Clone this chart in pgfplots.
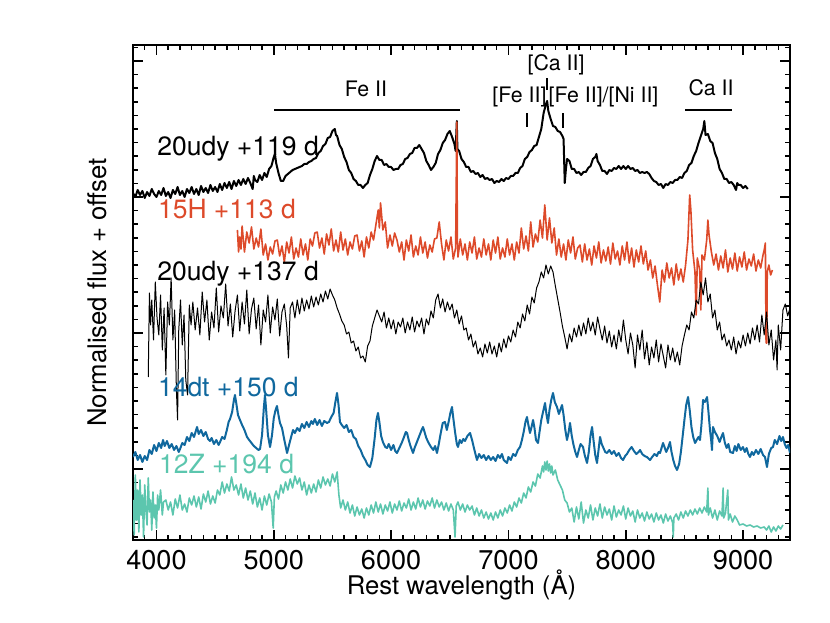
\documentclass[border=0pt]{standalone}
\usepackage{fontspec}
\setmainfont{TeX Gyre Heros}
\usepackage{pgfplots}
\pgfplotsset{compat=1.18}
\definecolor{redc}{RGB}{221,74,42}
\definecolor{bluec}{RGB}{16,104,158}
\definecolor{tealc}{RGB}{92,198,174}
\begin{document}
\begin{tikzpicture}[font=\fontsize{13.3}{16}\selectfont]
\path[use as bounding box] (-66.5bp,-41.5bp) rectangle (348.5bp,270bp);
\begin{axis}[
  at={(0,0)}, anchor=south west, scale only axis,
  width=328.5bp, height=247.5bp,
  xmin=3800, xmax=9400, ymin=0, ymax=495,
  xtick={4000,5000,...,9000}, minor xtick={3800,3900,...,9400},
  ytick={71,207,343,479}, yticklabels={}, minor ytick={3,16.6,...,493},
  xtick pos=both, ytick pos=both, xticklabel pos=lower,
  tick align=inside, major tick length=5bp, minor tick length=2.5bp,
  every tick/.style={black, line width=0.75bp},
  axis line style={line width=1bp},
  /pgf/number format/assume math mode=true,
  /pgf/number format/1000 sep={},
  xticklabel style={anchor=center, yshift=-10bp, font=\fontsize{13.6}{16}\selectfont},
  xlabel={Rest wavelength (Å)}, ylabel={Normalised flux + offset},
  label style={font=\fontsize{12.9}{15}\selectfont},
  xlabel style={at={(axis description cs:0.5,-0.091)}, anchor=center},
  ylabel style={at={(axis description cs:-0.055,0.5)}, anchor=center},
  every axis plot/.append style={line join=round},
]
% 20udy +119 d
\addplot[black, line width=1bp] coordinates {
(3800,347)(3820,343)(3840,350)(3860,345)(3880,349)(3900,342)(3920,348)(3940,344)(3960,351)(3980,346)
(4000,343)(4020,349)(4040,345)(4060,352)(4080,344)(4100,348)(4120,342)(4140,350)(4160,346)(4180,353)
(4200,345)(4220,349)(4240,343)(4260,351)(4280,347)(4300,353)(4320,346)(4340,351)(4360,345)(4380,354)
(4400,348)(4420,352)(4440,347)(4460,355)(4480,349)(4500,353)(4520,348)(4540,356)(4560,350)(4580,357)
(4600,352)(4620,358)(4640,351)(4660,359)(4680,354)(4700,360)(4720,355)(4740,361)(4760,356)(4780,362)
(4800,357)(4820,351)(4830,364)(4840,360)(4860,358)(4880,365)(4900,360)(4920,367)(4940,363)(4960,371)
(4980,374)(5000,383)(5010,386)(5020,377)(5040,367)(5060,359)(5080,359)(5100,364)(5120,366)(5140,368)
(5160,370)(5180,371)(5200,372)(5220,373)(5240,374)(5260,376)(5280,376)(5300,378)(5320,379)(5340,381)
(5360,382)(5380,387)(5400,389)(5420,394)(5440,396)(5460,402)(5480,403)(5500,409)(5520,411)(5530,405)
(5540,404)(5560,395)(5580,391)(5600,383)(5620,378)(5640,370)(5660,367)(5680,361)(5700,359)(5720,355)
(5740,355)(5760,352)(5780,355)(5800,357)(5820,365)(5840,371)(5860,379)(5880,384)(5900,380)(5920,380)
(5940,375)(5960,376)(5980,373)(6000,373)(6020,370)(6040,371)(6060,371)(6080,375)(6100,376)(6120,381)
(6140,382)(6160,386)(6180,387)(6200,392)(6220,392)(6240,395)(6260,391)(6280,387)(6300,379)(6320,375)
(6340,370)(6360,373)(6380,377)(6400,386)(6420,390)(6440,397)(6460,400)(6480,406)(6500,409)(6520,403)
(6540,396)(6550,389)(6560,419)(6565,391)(6580,389)(6600,381)(6620,378)(6640,373)(6660,373)(6680,368)
(6700,369)(6720,366)(6740,367)(6760,363)(6780,365)(6800,361)(6820,362)(6840,360)(6860,361)(6880,357)
(6900,359)(6920,358)(6940,361)(6960,359)(6980,362)(7000,361)(7020,364)(7040,364)(7060,367)(7080,367)
(7100,372)(7120,374)(7140,381)(7160,383)(7180,388)(7200,390)(7220,394)(7240,395)(7260,403)(7280,411)
(7300,427)(7320,436)(7330,439)(7340,429)(7360,421)(7380,414)(7400,413)(7420,409)(7440,408)(7460,404)
(7470,401)(7480,357)(7490,371)(7500,381)(7520,379)(7540,371)(7560,371)(7580,367)(7600,368)(7620,365)
(7640,368)(7660,368)(7680,372)(7700,374)(7720,381)(7740,383)(7750,386)(7760,379)(7780,375)(7800,369)
(7820,369)(7840,366)(7860,370)(7880,369)(7900,372)(7920,371)(7940,374)(7960,371)(7980,374)(8000,371)
(8020,374)(8040,371)(8060,372)(8080,369)(8100,370)(8120,367)(8140,368)(8160,367)(8180,368)(8200,366)
(8220,362)(8240,359)(8260,358)(8280,355)(8300,356)(8320,352)(8340,356)(8360,355)(8380,358)(8400,357)
(8420,360)(8440,360)(8460,363)(8480,362)(8500,367)(8520,369)(8540,375)(8560,377)(8580,384)(8600,389)
(8620,397)(8640,404)(8660,411)(8670,419)(8680,405)(8700,406)(8720,399)(8740,397)(8760,387)(8780,381)
(8800,371)(8820,367)(8840,361)(8860,361)(8880,357)(8900,358)(8920,355)(8940,350)(8950,357)(8960,355)
(8980,355)(9000,352)(9020,354)(9040,351)};
% 15H +113 d
\addplot[redc, line width=0.8bp] coordinates {
(4690,310)(4700,288)(4710,303)(4720,291)(4730,314)(4750,288)(4770,308)(4790,297)(4810,313)(4830,291)
(4850,302)(4870,293)(4890,311)(4910,285)(4930,296)(4950,280)(4970,293)(4990,286)(5010,299)(5030,300)
(5050,284)(5070,294)(5090,278)(5110,298)(5130,287)(5150,303)(5170,281)(5190,292)(5210,283)(5230,301)
(5250,285)(5270,296)(5290,280)(5310,301)(5330,294)(5350,307)(5370,308)(5390,292)(5410,302)(5430,286)
(5450,306)(5470,295)(5490,311)(5510,289)(5530,300)(5550,288)(5570,308)(5590,290)(5610,301)(5630,285)
(5650,298)(5670,291)(5690,304)(5710,305)(5730,289)(5750,299)(5770,283)(5790,303)(5810,292)(5830,308)
(5850,300)(5870,315)(5890,330)(5900,312)(5910,337)(5930,310)(5950,318)(5970,292)(5990,305)(6010,294)
(6030,307)(6050,300)(6070,288)(6090,298)(6110,280)(6130,300)(6150,289)(6170,305)(6190,283)(6210,294)
(6230,285)(6250,303)(6270,287)(6290,298)(6310,282)(6330,295)(6350,288)(6370,301)(6390,302)(6410,318)
(6430,296)(6450,280)(6470,300)(6490,289)(6510,303)(6530,281)(6550,292)(6560,418)(6565,300)(6570,283)
(6590,301)(6610,285)(6630,296)(6650,280)(6670,298)(6690,287)(6710,303)(6730,281)(6750,292)(6770,283)
(6790,301)(6810,285)(6830,296)(6850,280)(6870,300)(6890,287)(6910,303)(6930,281)(6950,292)(6970,283)
(6990,301)(7010,285)(7030,296)(7050,280)(7070,298)(7090,287)(7110,312)(7130,291)(7150,304)(7170,289)
(7190,318)(7210,293)(7230,306)(7250,298)(7270,320)(7290,302)(7310,335)(7330,300)(7350,322)(7370,297)
(7390,312)(7410,285)(7430,301)(7450,283)(7470,296)(7490,280)(7510,300)(7530,287)(7550,303)(7570,281)
(7590,292)(7610,295)(7630,278)(7650,296)(7670,280)(7690,291)(7710,275)(7730,294)(7750,282)(7770,298)
(7790,277)(7810,290)(7830,279)(7850,293)(7870,276)(7890,297)(7910,281)(7930,289)(7950,275)(7970,294)
(7990,280)(8010,298)(8030,277)(8050,292)(8070,273)(8090,290)(8110,278)(8130,294)(8150,276)(8170,289)
(8190,270)(8210,280)(8230,262)(8250,274)(8270,255)(8290,238)(8310,270)(8330,258)(8350,277)(8370,262)
(8390,272)(8410,255)(8430,276)(8450,260)(8470,271)(8490,258)(8510,275)(8530,300)(8545,345)(8555,330)
(8570,290)(8590,268)(8600,225)(8610,282)(8630,270)(8640,230)(8650,285)(8670,280)(8690,300)(8700,320)
(8710,305)(8730,288)(8750,275)(8770,286)(8790,270)(8810,284)(8830,272)(8850,290)(8870,268)(8890,282)
(8910,271)(8930,287)(8950,269)(8970,283)(8990,273)(9010,288)(9030,270)(9050,281)(9070,274)(9090,286)
(9110,269)(9130,280)(9150,272)(9170,285)(9180,290)(9190,297)(9196,197)(9202,197)(9206,268)(9220,275)
(9235,265)(9250,270)};
% 20udy +137 d
\addplot[black, line width=0.5bp] coordinates {
(3930,163)(3940,247)(3950,215)(3960,240)(3975,200)(3990,258)(4005,222)(4020,205)(4035,245)(4050,190)
(4065,232)(4080,165)(4095,238)(4110,215)(4125,262)(4140,200)(4155,230)(4170,150)(4180,120)(4190,210)
(4205,240)(4220,195)(4235,225)(4250,160)(4265,145)(4280,235)(4295,215)(4310,238)(4330,210)(4350,232)
(4370,205)(4390,248)(4410,218)(4430,240)(4450,200)(4470,228)(4490,212)(4510,252)(4530,208)(4550,234)
(4570,222)(4590,256)(4610,214)(4630,236)(4650,203)(4670,229)(4690,245)(4710,209)(4730,238)(4750,216)
(4770,250)(4790,206)(4810,231)(4830,242)(4850,211)(4870,235)(4890,195)(4910,230)(4930,218)(4950,245)
(4970,207)(4990,233)(5010,220)(5030,241)(5050,204)(5070,228)(5090,236)(5110,214)(5125,182)(5140,232)
(5160,238)(5180,222)(5200,240)(5220,226)(5240,242)(5260,229)(5280,240)(5300,231)(5320,244)(5340,233)
(5360,243)(5380,235)(5400,246)(5420,238)(5440,249)(5460,241)(5480,251)(5500,245)(5520,240)(5540,232)
(5560,226)(5580,219)(5600,215)(5620,206)(5640,208)(5660,197)(5680,199)(5700,189)(5720,193)(5740,182)
(5760,184)(5780,178)(5800,194)(5820,199)(5840,214)(5860,222)(5880,230)(5900,224)(5920,218)(5940,228)
(5960,212)(5980,222)(6000,211)(6020,220)(6040,206)(6060,218)(6080,213)(6100,222)(6120,207)(6140,218)
(6160,210)(6180,223)(6200,208)(6220,219)(6240,213)(6260,222)(6280,206)(6300,221)(6320,215)(6340,229)
(6360,222)(6380,240)(6400,246)(6420,232)(6440,241)(6460,228)(6480,238)(6500,230)(6520,236)(6540,222)
(6560,230)(6580,216)(6600,224)(6620,210)(6640,212)(6660,200)(6680,206)(6700,193)(6720,199)(6740,186)
(6760,192)(6780,183)(6800,196)(6820,187)(6840,198)(6860,186)(6880,194)(6900,183)(6920,197)(6940,188)
(6960,201)(6980,192)(7000,204)(7020,198)(7040,210)(7060,203)(7080,218)(7100,212)(7120,226)(7140,219)
(7160,235)(7180,226)(7200,243)(7220,237)(7240,252)(7260,258)(7280,268)(7300,262)(7320,275)(7340,266)
(7360,274)(7380,268)(7400,254)(7420,241)(7440,228)(7460,214)(7480,203)(7500,191)(7520,206)(7540,198)
(7560,212)(7580,203)(7600,215)(7620,204)(7640,217)(7660,206)(7680,222)(7700,209)(7720,218)(7740,205)
(7760,223)(7780,211)(7800,200)(7820,214)(7840,197)(7860,209)(7880,193)(7900,205)(7920,191)(7940,210)
(7960,198)(7980,220)(8000,200)(8020,186)(8040,207)(8060,195)(8080,172)(8100,205)(8120,190)(8140,210)
(8160,181)(8180,198)(8200,175)(8220,193)(8240,182)(8260,200)(8280,178)(8300,196)(8320,184)(8340,172)
(8360,195)(8380,180)(8400,192)(8420,178)(8440,188)(8460,175)(8480,194)(8500,205)(8520,215)(8540,210)
(8560,228)(8580,222)(8600,240)(8620,236)(8640,258)(8660,245)(8680,262)(8700,238)(8720,246)(8740,222)
(8760,230)(8780,210)(8800,218)(8820,200)(8840,206)(8860,194)(8880,200)(8900,190)(8920,203)(8940,186)
(8960,199)(8980,192)(9000,205)(9020,194)(9040,207)(9060,196)(9080,212)(9100,200)(9120,215)(9140,198)
(9160,225)(9180,205)(9200,228)(9220,195)(9240,210)(9260,180)(9280,200)(9290,170)(9300,215)(9320,190)
(9340,230)(9360,236)(9380,224)(9400,232)};
% 14dt +150 d
\addplot[bluec, line width=1bp] coordinates {
(3800,83)(3820,88)(3840,80)(3860,85)(3880,78)(3900,84)(3920,80)(3940,90)(3960,86)(3980,95)
(4000,89)(4020,97)(4040,92)(4056,100)(4070,94)(4090,99)(4110,92)(4130,96)(4150,90)(4170,94)
(4190,88)(4201,91)(4220,97)(4240,95)(4260,103)(4280,99)(4300,107)(4320,103)(4346,113)(4360,106)
(4380,110)(4400,104)(4420,108)(4440,101)(4456,99)(4470,102)(4490,96)(4510,100)(4530,95)(4542,98)
(4560,103)(4580,101)(4600,110)(4615,118)(4627,121)(4645,128)(4660,140)(4669,145)(4680,137)(4695,125)
(4712,120)(4730,115)(4750,110)(4772,103)(4790,100)(4810,97)(4830,94)(4850,92)(4870,90)(4883,91)
(4900,105)(4915,132)(4925,145)(4935,130)(4950,105)(4968,93)(4985,105)(5000,122)(5015,130)(5027,134)
(5040,125)(5053,117)(5070,112)(5090,100)(5113,87)(5130,95)(5150,104)(5164,110)(5180,107)(5200,112)
(5220,109)(5240,116)(5260,112)(5280,118)(5300,113)(5320,119)(5334,116)(5350,121)(5370,115)(5390,120)
(5410,114)(5430,119)(5454,117)(5470,118)(5490,123)(5510,127)(5525,138)(5539,147)(5552,135)(5564,118)
(5580,115)(5600,112)(5620,115)(5640,108)(5660,110)(5680,103)(5700,101)(5720,94)(5740,90)(5760,84)
(5780,80)(5800,75)(5820,73)(5840,82)(5860,102)(5875,120)(5888,127)(5900,118)(5915,104)(5930,98)
(5950,93)(5965,92)(5980,96)(6000,90)(6020,95)(6035,89)(6050,87)(6070,92)(6090,97)(6110,103)
(6125,108)(6136,107)(6150,100)(6165,94)(6187,87)(6200,92)(6220,98)(6240,104)(6260,110)(6272,113)
(6285,108)(6300,102)(6320,97)(6340,93)(6360,90)(6375,94)(6391,87)(6405,95)(6420,105)(6440,117)
(6459,118)(6475,110)(6490,118)(6505,127)(6519,133)(6530,122)(6545,108)(6560,96)(6570,93)(6585,100)
(6600,97)(6615,101)(6630,99)(6650,104)(6673,107)(6690,100)(6710,90)(6732,80)(6750,86)(6770,82)
(6790,85)(6810,80)(6830,84)(6850,80)(6870,83)(6890,79)(6910,85)(6928,82)(6945,86)(6960,80)
(6988,77)(7000,83)(7020,80)(7040,86)(7060,84)(7080,90)(7099,93)(7115,100)(7130,108)(7145,118)
(7158,123)(7170,115)(7184,107)(7197,113)(7210,120)(7222,112)(7235,100)(7252,97)(7265,108)(7280,120)
(7295,128)(7312,137)(7325,125)(7337,117)(7350,130)(7365,140)(7380,147)(7395,138)(7414,133)(7430,126)
(7445,131)(7457,135)(7470,125)(7485,110)(7499,100)(7512,107)(7525,117)(7540,104)(7555,95)(7570,88)
(7585,83)(7600,90)(7615,96)(7636,93)(7650,85)(7670,77)(7685,88)(7700,105)(7713,113)(7725,100)
(7740,85)(7755,77)(7768,90)(7781,103)(7795,96)(7810,92)(7825,88)(7840,87)(7860,90)(7880,86)
(7900,89)(7920,84)(7940,87)(7960,82)(7977,80)(7995,84)(8010,86)(8030,90)(8050,93)(8070,89)
(8090,86)(8110,88)(8122,90)(8140,86)(8160,84)(8180,83)(8207,80)(8225,83)(8245,86)(8265,84)
(8280,88)(8292,87)(8305,92)(8318,97)(8330,93)(8345,88)(8360,92)(8377,98)(8390,88)(8405,80)
(8420,74)(8437,70)(8455,76)(8470,88)(8488,107)(8500,120)(8515,135)(8531,143)(8545,130)(8560,113)
(8575,103)(8591,97)(8605,100)(8620,103)(8633,100)(8645,115)(8659,140)(8675,138)(8693,143)(8705,128)
(8718,110)(8728,100)(8735,90)(8744,113)(8760,108)(8780,104)(8800,98)(8815,103)(8829,107)(8845,97)
(8860,92)(8875,96)(8890,88)(8914,87)(8930,94)(8945,89)(8960,96)(8980,90)(8999,93)(9015,88)
(9030,92)(9045,86)(9059,83)(9075,88)(9090,85)(9110,90)(9130,86)(9150,91)(9170,85)(9187,83)
(9204,73)(9220,86)(9240,92)(9255,93)(9270,100)(9290,96)(9310,104)(9325,99)(9340,103)(9355,96)
(9370,92)(9385,95)(9400,87)};
% 12Z +194 d
\addplot[tealc, line width=0.8bp] coordinates {
(3800,40)(3810,5)(3820,65)(3830,20)(3840,50)(3850,8)(3860,60)(3870,25)(3880,45)(3890,3)
(3900,55)(3910,30)(3920,15)(3930,62)(3940,28)(3950,40)(3960,10)(3970,48)(3980,22)(3990,35)
(4000,12)(4010,45)(4020,30)(4035,50)(4050,25)(4060,38)(4080,40)(4100,30)(4120,38)(4140,25)
(4160,41)(4180,32)(4200,45)(4220,30)(4240,36)(4260,28)(4280,42)(4300,35)(4320,44)(4340,33)
(4360,43)(4380,31)(4400,46)(4420,38)(4440,49)(4460,36)(4480,44)(4500,37)(4520,50)(4540,45)
(4560,58)(4580,47)(4600,56)(4620,49)(4640,63)(4660,50)(4680,55)(4700,45)(4720,56)(4740,42)
(4760,52)(4780,40)(4800,49)(4820,36)(4840,47)(4860,33)(4880,42)(4900,30)(4920,44)(4940,35)
(4960,46)(4980,38)(4995,12)(5005,43)(5020,49)(5040,41)(5060,55)(5080,47)(5100,58)(5120,50)
(5140,61)(5160,52)(5180,64)(5200,56)(5220,62)(5240,50)(5260,58)(5280,45)(5300,55)(5320,47)
(5340,56)(5360,48)(5380,60)(5400,52)(5420,63)(5440,55)(5460,61)(5480,54)(5500,66)(5520,58)
(5540,68)(5555,45)(5570,32)(5590,40)(5610,30)(5630,38)(5650,27)(5670,35)(5690,24)(5710,33)
(5730,25)(5750,31)(5770,22)(5790,32)(5810,25)(5830,35)(5850,27)(5870,38)(5890,28)(5910,36)
(5930,26)(5950,35)(5970,29)(5990,38)(6010,27)(6030,36)(6050,30)(6070,39)(6090,29)(6110,37)
(6130,32)(6150,41)(6170,30)(6190,38)(6210,31)(6230,42)(6250,33)(6270,40)(6290,31)(6310,39)
(6330,34)(6350,42)(6370,32)(6390,40)(6410,33)(6430,38)(6450,30)(6470,37)(6490,29)(6510,36)
(6530,30)(6545,3)(6555,34)(6570,38)(6590,30)(6610,36)(6630,28)(6650,35)(6670,30)(6690,34)
(6710,25)(6730,32)(6750,24)(6770,30)(6790,22)(6810,28)(6830,21)(6850,27)(6870,20)(6890,28)
(6910,22)(6930,30)(6950,24)(6970,32)(6990,27)(7010,35)(7030,29)(7050,38)(7070,33)(7090,42)
(7110,37)(7130,47)(7150,42)(7170,53)(7190,48)(7210,58)(7230,54)(7250,66)(7270,62)(7290,74)
(7300,68)(7310,78)(7320,70)(7330,79)(7340,69)(7350,76)(7360,67)(7370,74)(7380,65)(7400,70)
(7420,60)(7440,55)(7460,50)(7480,40)(7500,37)(7520,28)(7540,32)(7560,18)(7580,33)(7600,21)
(7620,38)(7640,17)(7660,30)(7680,22)(7700,35)(7720,20)(7740,32)(7760,24)(7780,36)(7800,22)
(7820,33)(7840,25)(7860,31)(7880,20)(7900,34)(7920,23)(7940,30)(7960,25)(7980,34)(8000,21)
(8020,32)(8040,24)(8060,29)(8080,18)(8100,30)(8120,22)(8140,27)(8160,19)(8180,28)(8200,21)
(8220,26)(8240,18)(8260,27)(8280,20)(8300,25)(8320,17)(8340,26)(8360,19)(8380,24)(8400,17)
(8405,3)(8410,22)(8430,26)(8450,20)(8470,28)(8490,22)(8510,29)(8530,24)(8550,30)(8570,25)
(8590,31)(8610,26)(8630,32)(8650,27)(8670,33)(8690,28)(8700,52)(8705,25)(8720,32)(8740,22)
(8760,30)(8780,20)(8800,29)(8820,24)(8830,52)(8835,22)(8850,27)(8870,50)(8875,20)(8890,26)
(8910,18)(8930,24)(8950,20)(8970,15)(9000,16)(9030,14)(9060,15)(9090,13)(9120,14)(9150,12)
(9180,13)(9200,10)(9220,14)(9240,8)(9260,13)(9280,9)(9300,14)(9320,11)(9340,15)};

% spectrum labels
\node[anchor=base west, inner sep=0pt] at (axis cs:4005,384) {20udy +119 d};
\node[anchor=base west, inner sep=0pt, redc] at (axis cs:4010,321) {15H +113 d};
\node[anchor=base west, inner sep=0pt] at (axis cs:4005,259) {20udy +137 d};
\node[anchor=base west, inner sep=0pt, bluec] at (axis cs:4010,143) {14dt +150 d};
\node[anchor=base west, inner sep=0pt, tealc] at (axis cs:4020,66) {12Z +194 d};

% line identifications
\begin{scope}[font=\fontsize{10.7}{12}\selectfont]
\node[anchor=base, inner sep=0pt] at (axis cs:5786,443) {Fe II};
\draw[line width=1bp] (axis cs:5002,430) -- (axis cs:6587,430);
\node[anchor=base, inner sep=0pt] at (axis cs:7406,469) {[Ca II]};
\draw[line width=0.8bp] (axis cs:7329,450) -- (axis cs:7329,462);
\node[anchor=base, inner sep=0pt] at (axis cs:7094,437) {[Fe II]};
\draw[line width=0.8bp] (axis cs:7158,413) -- (axis cs:7158,427);
\node[anchor=base, inner sep=0pt] at (axis cs:7811,437) {[Fe II]/[Ni II]};
\draw[line width=0.8bp] (axis cs:7465,412) -- (axis cs:7465,427);
\node[anchor=base, inner sep=0pt] at (axis cs:8727,444) {Ca II};
\draw[line width=1bp] (axis cs:8505,430) -- (axis cs:8906,430);
\end{scope}
\end{axis}
\end{tikzpicture}
\end{document}
